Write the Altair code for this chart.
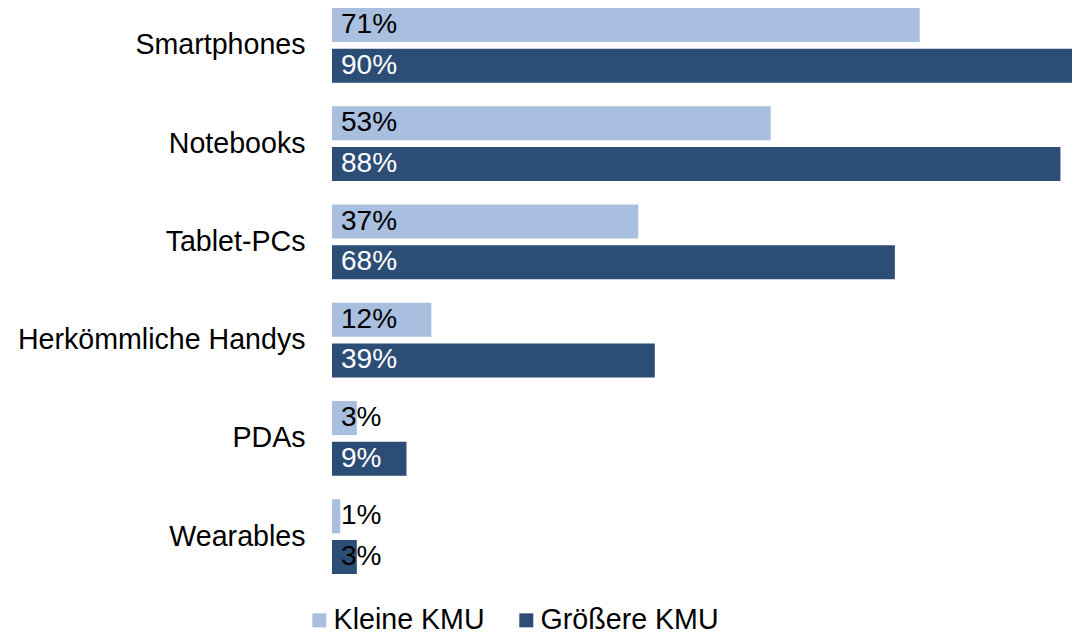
import altair as alt
import pandas as pd

categories = ["Smartphones", "Notebooks", "Tablet-PCs", "Herkömmliche Handys", "PDAs", "Wearables"]
series = ["Kleine KMU", "Größere KMU"]
kleine = [71, 53, 37, 12, 3, 1]
groessere = [90, 88, 68, 39, 9, 3]
colors = ["#A9BFDF", "#2C4D75"]

rows = []
for c, k, g in zip(categories, kleine, groessere):
    rows.append({"Kategorie": c, "Gruppe": series[0], "Wert": k})
    rows.append({"Kategorie": c, "Gruppe": series[1], "Wert": g})
df = pd.DataFrame(rows)
df["Label"] = df["Wert"].astype(str) + "%"

font = "Liberation Sans"
fs = 28.6

y = alt.Y(
    "Kategorie:N",
    sort=categories,
    scale=alt.Scale(paddingInner=0.24, paddingOuter=0),
    axis=alt.Axis(title=None, ticks=False, domain=False, labelFontSize=fs,
                  labelFont=font, labelColor="black", labelPadding=27, labelLimit=0),
)
yoff = alt.YOffset("Gruppe:N", sort=series, scale=alt.Scale(paddingInner=0.163, paddingOuter=0))
x = alt.X("Wert:Q", scale=alt.Scale(domain=[0, 89.4], nice=False), axis=None)

base = alt.Chart(df)
bars = base.mark_bar().encode(
    y=y,
    yOffset=yoff,
    x=x,
    color=alt.Color(
        "Gruppe:N",
        sort=series,
        scale=alt.Scale(domain=series, range=colors),
        legend=alt.Legend(
            title=None, orient="none", legendX=-27, legendY=598, direction="horizontal",
            symbolType="square", symbolSize=196, symbolStrokeWidth=0,
            labelFontSize=fs, labelFont=font, labelColor="black", labelLimit=0,
            labelOffset=0, columnPadding=27, padding=0,
        ),
    ),
)
text = base.mark_text(align="left", baseline="middle", dx=9, font=font, fontSize=28).encode(
    y=y,
    yOffset=yoff,
    x=alt.datum(0),
    text="Label:N",
    color=alt.when((alt.datum.Gruppe == "Größere KMU") & (alt.datum.Wert >= 5))
    .then(alt.value("white"))
    .otherwise(alt.value("black")),
)

chart = (
    alt.layer(bars, text)
    .properties(
        width=740,
        height=566,
        autosize=alt.AutoSizeParams(type="none"),
        padding={"left": 324, "top": 0, "right": 0, "bottom": 60},
    )
    .configure_view(stroke=None)
)

chart.save("out.html", embed_options={"renderer": "svg", "actions": False})
